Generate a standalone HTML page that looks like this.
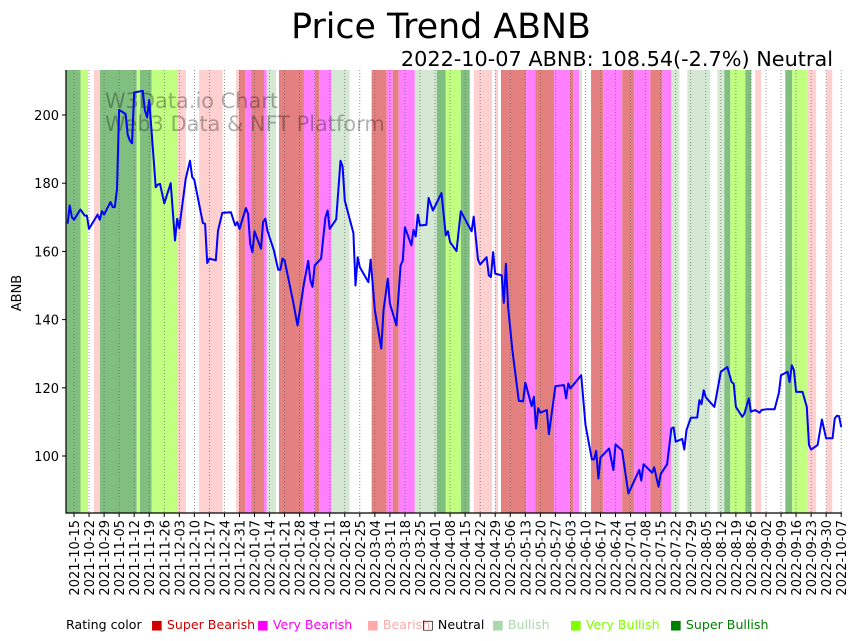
<!DOCTYPE html>
<html><head><meta charset="utf-8"><style>
body{margin:0;background:#fff;width:857px;height:641px;overflow:hidden;font-family:"DejaVu Sans","Liberation Sans",sans-serif;}
.lg{position:absolute;top:617px;font-size:12.6px;white-space:nowrap;}
</style></head><body>
<svg id="chart" width="857" height="641" style="position:absolute;left:0;top:0">
<text x="441" y="38" text-anchor="middle" font-size="34.8" font-family="DejaVu Sans, sans-serif">Price Trend ABNB</text>
<text x="833" y="66" text-anchor="end" font-size="20.8" font-family="DejaVu Sans, sans-serif">2022-10-07 ABNB: 108.54(-2.7%) Neutral</text>
<g id="bands"></g><g id="grid"></g>
<text x="105" y="108" font-size="20.9" fill="#000" fill-opacity="0.3" font-family="DejaVu Sans, sans-serif">W3Data.io Chart</text>
<text x="105" y="131" font-size="20.9" fill="#000" fill-opacity="0.3" font-family="DejaVu Sans, sans-serif">Web3 Data &amp; NFT Platform</text>
<g id="line"></g><g id="axes"></g>
<text transform="translate(21,293) rotate(-90)" text-anchor="middle" font-size="13" font-family="DejaVu Sans, sans-serif">ABNB</text>
</svg>
<div class="lg" style="left:66px">Rating color</div>
<div class="lg" style="left:151px;color:#d00000">■ Super Bearish</div>
<div class="lg" style="left:257px;color:#ff00ff">■ Very Bearish</div>
<div class="lg" style="left:367px;color:#ffaaaa">■ Bearish</div>
<div class="lg" style="left:422px;color:#000">□ Neutral</div>
<div class="lg" style="left:492px;color:#aad8aa">■ Bullish</div>
<div class="lg" style="left:570px;color:#7fff00">■ Very Bullish</div>
<div class="lg" style="left:670px;color:#008000">■ Super Bullish</div>
<script>
// day offsets from 2021-10-15 and close prices
const days=[-3,-2,-1,0,3,5,6,7,11,12,13,14,17,18,19,20,21,24,25,26,27,28,32,33,34,35,36,37,38,39,40,42,45,47,48,49,52,54,55,56,60,61,62,63,66,67,69,73,75,76,77,80,81,82,83,84,87,88,89,90,93,95,96,97,98,102,104,107,109,110,111,112,115,117,118,119,122,124,125,126,130,131,132,133,137,138,140,143,144,146,147,150,152,153,154,157,158,159,160,161,164,165,167,171,173,174,175,178,180,185,186,188,189,192,193,194,195,196,199,200,201,202,204,207,209,210,213,214,215,216,217,220,221,224,228,229,230,231,236,238,241,242,243,244,245,249,251,252,255,258,263,264,265,269,270,272,273,276,278,279,280,283,284,285,287,290,291,292,293,294,298,301,304,306,307,308,311,312,314,315,317,319,320,322,326,328,329,332,333,334,335,336,339,341,342,343,346,348,350,353,354,355,356,357];
const prices=[168.1,173.5,170.0,169.3,172.3,170.5,170.5,166.6,170.8,169.3,171.8,170.8,174.5,173.0,173.0,178.3,201.5,200.3,194.2,192.5,191.7,206.6,207.1,201.3,199.3,204.4,195.9,187.6,178.8,179.6,179.8,174.1,180.0,163.2,169.6,166.8,181.3,186.6,181.8,181.0,168.3,168.1,156.6,157.9,157.4,166.1,171.3,171.5,167.6,168.6,166.6,172.7,171.0,162.2,159.8,165.9,160.8,168.6,169.6,166.1,160.3,154.6,154.6,157.9,157.4,145.2,138.3,150.5,157.2,151.5,149.6,155.9,157.9,170.0,172.0,166.6,169.4,186.6,184.9,174.9,165.4,150.0,158.3,155.4,151.0,157.6,142.7,131.5,142.7,152.0,144.7,138.3,155.9,157.4,167.1,161.8,166.3,164.4,170.8,167.6,167.8,175.7,172.0,177.1,164.7,165.9,162.7,160.1,171.8,165.9,170.2,157.6,156.2,158.3,153.0,152.5,159.8,153.5,153.0,144.9,156.4,143.7,131.0,116.2,116.0,121.5,114.6,117.4,108.1,114.0,112.7,113.5,106.4,120.5,120.8,116.9,121.3,119.8,123.7,109.1,99.0,99.0,101.5,93.4,99.6,102.2,95.9,103.4,101.7,89.0,95.9,92.8,97.6,95.1,96.7,91.0,94.7,97.6,108.1,108.4,104.2,105.0,101.9,107.6,111.2,111.3,116.4,115.2,119.3,117.2,114.4,124.7,126.1,121.7,121.2,114.4,111.5,112.5,116.9,113.0,113.5,112.7,113.5,113.7,113.7,118.5,123.7,124.7,121.7,126.6,125.2,118.8,118.8,114.4,103.2,101.9,103.2,110.7,105.2,105.2,111.0,111.8,111.7,108.54];
// rating bands: start day, end day, rating code (0 neutral,1 bullish,2 very bullish,3 super bullish,-1 bearish,-2 very bearish,-3 super bearish)
const bandStart=[-3.5,3.1,6.5,9.3,12.1,29.2,30.7,36.1,48.0,52.1,58.2,69.2,75.4,76.8,79.6,82.4,88.4,89.7,94.0,95.4,107.0,112.1,114.1,119.8,128.3,138.5,145.5,148.3,151.1,158.6,168.8,173.0,180.0,184.2,186.1,194.5,195.9,197.3,198.7,210.4,214.6,223.4,230.8,232.2,235.0,236.4,240.6,246.2,255.1,260.7,268.2,273.8,277.9,281.7,285.4,296.1,299.4,302.6,305.4,312.4,315.2,317.0,319.8,331.0,334.2,341.2,345.4,350.1,352.9];
const bandEnd=[3.1,6.5,9.3,12.1,29.2,30.7,36.1,48.0,52.1,58.2,69.2,75.4,76.8,79.6,82.4,88.4,89.7,94.0,95.4,107.0,112.1,114.1,119.8,128.3,138.5,145.5,148.3,151.1,158.6,168.8,173.0,180.0,184.2,186.1,194.5,195.9,197.3,198.7,210.4,214.6,223.4,230.8,232.2,235.0,236.4,240.6,246.2,255.1,260.7,268.2,273.8,277.9,281.7,285.4,296.1,299.4,302.6,305.4,312.4,315.2,317.0,319.8,331.0,334.2,341.2,345.4,350.1,352.9,357.6];
const bandRating=[3,2,0,-1,3,2,3,2,-1,0,-1,0,-1,-3,-2,-3,-2,1,0,-3,-2,-3,-2,1,0,-3,-2,-3,-2,1,3,2,3,0,-1,0,-1,0,-3,-2,-3,-2,-3,-2,1,0,-3,-2,-3,-2,-3,-2,1,0,1,0,1,3,2,3,0,-1,0,3,2,-1,0,-1,0];
const yTicks=[100,120,140,160,180,200];
const ratingColors={"3":"#80bf80","2":"#c0ff80","1":"#d5e8d4","0":"#ffffff","-1":"#ffd0d0","-2":"#ff80ff","-3":"#e58080"};
const L=66,R=842,T=70,B=513,startDate=new Date(Date.UTC(2021,9,15));
const xS=d=>74+d*2.149, yS=v=>456-(v-100)*3.41;
const NS="http://www.w3.org/2000/svg";
function mk(tag,parent,attrs){const e=document.createElementNS(NS,tag);for(const k in attrs)e.setAttribute(k,attrs[k]);parent.appendChild(e);return e;}
const gB=document.getElementById('bands');
bandStart.forEach((s,i)=>{const x0=Math.max(L,xS(s)),x1=Math.min(R,xS(bandEnd[i]));
 const r=mk('rect',gB,{x:x0,y:T,width:Math.max(0,x1-x0),height:B-T,fill:ratingColors[bandRating[i]]});
 
 });
const gG=document.getElementById('grid'),gA=document.getElementById('axes');
for(let d=0;d<=357;d+=7){const x=xS(d);
 const gl=mk('line',gG,{x1:x,x2:x,y1:T,y2:B,stroke:'#666','stroke-width':0.7,'stroke-dasharray':'1,2'});
 
 
 mk('line',gA,{x1:x,x2:x,y1:B,y2:B+4,stroke:'#000','stroke-width':1});
 const dt=new Date(startDate.getTime()+d*86400000);const lab=dt.toISOString().slice(0,10);
 const t=mk('text',gA,{transform:`translate(${x+5},${B+7}) rotate(-90)`,'text-anchor':'end','font-size':13,'font-family':'DejaVu Sans, sans-serif'});
 t.textContent=lab;
 
 }
yTicks.forEach(v=>{const y=yS(v);mk('line',gA,{x1:L-4,x2:L,y1:y,y2:y,stroke:'#000'});
 const t=mk('text',gA,{x:L-7,y:y+5,'text-anchor':'end','font-size':13,'font-family':'DejaVu Sans, sans-serif'});t.textContent=v;
 
 });
const sp=mk('path',gA,{d:`M${L},${T}V${B}H${R}`,fill:'none',stroke:'#000','stroke-width':1.2});


const pl=mk('polyline',document.getElementById('line'),{points:days.map((d,i)=>xS(d).toFixed(1)+','+yS(prices[i]).toFixed(1)).join(' '),fill:'none',stroke:'#0000ff','stroke-width':2,'stroke-linejoin':'round'});


</script>
</body></html>
